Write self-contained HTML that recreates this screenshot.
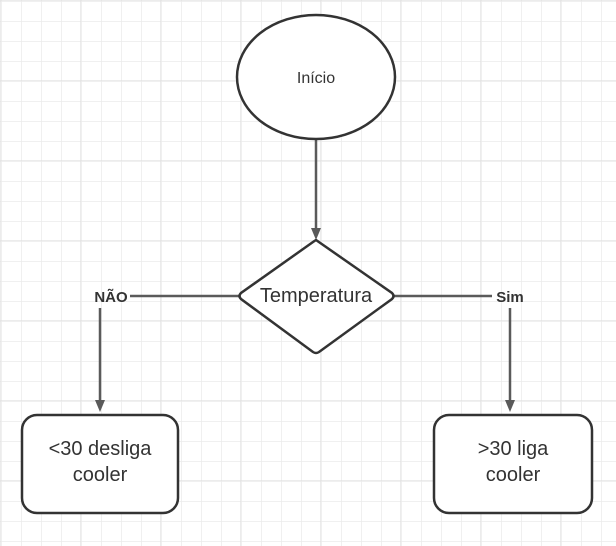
<!DOCTYPE html>
<html><head><style>
html,body{margin:0;padding:0;background:#fff;}
svg{display:block;}
text{font-family:"Liberation Sans",sans-serif;fill:#333;}
</style></head><body>
<svg width="616" height="546" xmlns="http://www.w3.org/2000/svg">
<defs>
<pattern id="g" width="20" height="20" patternUnits="userSpaceOnUse" x="1" y="1">
<path d="M0 0H20M0 0V20" stroke="#ebebeb" stroke-width="1.5" fill="none"/>
</pattern>
<pattern id="G" width="80" height="80" patternUnits="userSpaceOnUse" x="0" y="0">
<path d="M0 0H80M0 0V80" stroke="#e0e0e0" stroke-width="1.2" fill="none"/>
</pattern>
</defs>
<rect width="616" height="546" fill="url(#g)"/>
<rect width="616" height="546" fill="url(#G)"/>
<g stroke="#5a5a5a" stroke-width="2.5" fill="none">
<line x1="316" y1="140" x2="316" y2="230"/>
<line x1="130" y1="296" x2="240" y2="296"/>
<line x1="393" y1="296" x2="492" y2="296"/>
<line x1="100" y1="308" x2="100" y2="402"/>
<line x1="510" y1="308" x2="510" y2="402"/>
</g>
<g fill="#5a5a5a">
<polygon points="311,228 321,228 316,240"/>
<polygon points="95,400 105,400 100,412"/>
<polygon points="505,400 515,400 510,412"/>
</g>
<g stroke="#333" stroke-width="2.5" fill="#fff">
<ellipse cx="316" cy="77" rx="79" ry="62"/>
<path d="M316 240 L392 293 Q395 296 392 299 L319 352 Q316 354 313 352 L241 299 Q238 296 241 293 L313 242 Q316 240 316 240 Z"/>
<rect x="22" y="415" width="156" height="98" rx="15"/>
<rect x="434" y="415" width="158" height="98" rx="15"/>
</g>
<text x="316" y="83" font-size="16" text-anchor="middle">Início</text>
<text x="316" y="302" font-size="20" text-anchor="middle">Temperatura</text>
<text x="111" y="302" font-size="15" font-weight="bold" text-anchor="middle">NÃO</text>
<text x="510" y="302" font-size="15" font-weight="bold" text-anchor="middle">Sim</text>
<text x="100" y="455" font-size="20" text-anchor="middle">&lt;30 desliga</text>
<text x="100" y="481" font-size="20" text-anchor="middle">cooler</text>
<text x="513" y="455" font-size="20" text-anchor="middle">&gt;30 liga</text>
<text x="513" y="481" font-size="20" text-anchor="middle">cooler</text>
</svg>
</body></html>
